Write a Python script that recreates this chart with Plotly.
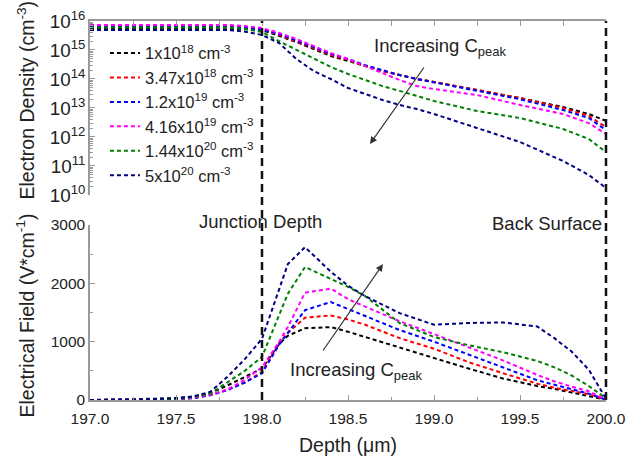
import plotly.graph_objects as go

# ---------------- data ----------------
labels = ["1x10<sup>18</sup> cm<sup>-3</sup>", "3.47x10<sup>18</sup> cm<sup>-3</sup>",
          "1.2x10<sup>19</sup> cm<sup>-3</sup>", "4.16x10<sup>19</sup> cm<sup>-3</sup>",
          "1.44x10<sup>20</sup> cm<sup>-3</sup>", "5x10<sup>20</sup> cm<sup>-3</sup>"]
colors = ["#000000", "#ff0000", "#0000ff", "#ff00ff", "#008000", "#000080"]

depth_n = [197.0, 197.5, 197.8, 197.9, 198.0, 198.1, 198.2, 198.3, 198.4, 198.5,
           198.6, 198.7, 198.8, 198.9, 199.0, 199.25, 199.5, 199.75, 199.9, 200.0]
n_1e18 = [5.4e15, 5.4e15, 5.4e15, 5.2e15, 4.9e15, 3.0e15, 1.89e15, 1.08e15, 6.2e14, 4.2e14,
          2.8e14, 1.89e14, 1.37e14, 1.0e14, 7.9e13, 4.2e13, 2.2e13, 1.08e13, 6.2e12, 3.6e12]
n_347e18 = [6.5e15, 6.5e15, 6.5e15, 6.0e15, 5.3e15, 3.3e15, 2.0e15, 1.17e15, 6.7e14, 4.5e14,
            2.8e14, 1.89e14, 1.37e14, 1.0e14, 7.9e13, 4.2e13, 2.2e13, 1.0e13, 5.3e12, 2.2e12]
n_12e19 = [6.2e15, 6.2e15, 6.2e15, 5.7e15, 5.1e15, 3.6e15, 2.2e15, 1.27e15, 7.3e14, 4.9e14,
           3.0e14, 2.0e14, 1.37e14, 1.0e14, 7.6e13, 3.9e13, 2.0e13, 8.5e12, 4.5e12, 1.74e12]
n_416e19 = [7.3e15, 7.3e15, 7.3e15, 6.7e15, 5.7e15, 3.9e15, 2.4e15, 1.37e15, 7.9e14, 4.9e14,
            2.8e14, 1.61e14, 9.2e13, 5.7e13, 4.5e13, 2.8e13, 1.27e13, 6.2e12, 3.0e12, 1.27e12]
n_144e20 = [6.0e15, 6.0e15, 6.0e15, 5.3e15, 4.2e15, 2.0e15, 1.0e15, 4.9e14, 2.6e14, 1.49e14,
            9.2e13, 5.7e13, 3.9e13, 2.6e13, 1.74e13, 7.9e12, 4.5e12, 1.89e12, 8.5e11, 3.0e11]
n_5e20 = [4.9e15, 4.9e15, 4.9e15, 4.3e15, 3.3e15, 1.74e15, 4.9e14, 1.89e14, 1.0e14, 4.9e13,
          3.0e13, 1.89e13, 1.27e13, 9.2e12, 6.2e12, 2.0e12, 6.7e11, 1.49e11, 4.9e10, 1.74e10]
density = [n_1e18, n_347e18, n_12e19, n_416e19, n_144e20, n_5e20]

depth_e = [197.0, 197.25, 197.5, 197.6, 197.7, 197.8, 197.9, 198.0, 198.1, 198.15, 198.25,
           198.4, 198.5, 198.6, 198.8, 199.0, 199.2, 199.4, 199.6, 199.7, 199.8, 199.9, 200.0]
e_1e18 = [0, 10, 30, 60, 120, 250, 400, 540, 960, 1100, 1230,
          1250, 1170, 1080, 890, 720, 540, 370, 240, 190, 130, 75, 5]
e_347e18 = [0, 5, 15, 35, 85, 180, 300, 480, 980, 1150, 1410,
            1450, 1380, 1290, 1060, 880, 650, 460, 280, 210, 160, 100, 5]
e_12e19 = [0, 3, 12, 30, 80, 170, 300, 460, 950, 1150, 1540,
           1680, 1560, 1430, 1200, 1000, 780, 560, 340, 260, 180, 110, 5]
e_416e19 = [0, 3, 15, 40, 90, 180, 350, 560, 1000, 1250, 1840,
            1910, 1730, 1600, 1350, 1130, 900, 680, 430, 320, 230, 150, 10]
e_144e20 = [0, 3, 20, 50, 110, 300, 500, 740, 1450, 1820, 2280,
            2080, 1940, 1780, 1320, 1080, 940, 820, 670, 560, 420, 240, 30]
e_5e20 = [0, 5, 30, 60, 140, 400, 700, 1050, 1900, 2330, 2620,
          2200, 1960, 1780, 1490, 1290, 1320, 1330, 1260, 1060, 830, 520, 20]
field = [e_1e18, e_347e18, e_12e19, e_416e19, e_144e20, e_5e20]

marker_depths = [198.0, 200.0]   # junction depth, back surface
x_range = [197.0, 200.0]

# ---------------- figure ----------------
FONT = "Arial, Liberation Sans, sans-serif"
AX = "#9a9a9a"
TXT = "#222222"
fig = go.Figure()

for lab, col, yv in zip(labels, colors, density):
    fig.add_trace(go.Scatter(x=depth_n, y=yv, mode="lines", name=lab, legendgroup=lab,
                             line=dict(color=col, width=2, dash="4px,3px"),
                             xaxis="x", yaxis="y"))
for lab, col, yv in zip(labels, colors, field):
    fig.add_trace(go.Scatter(x=depth_e, y=yv, mode="lines", name=lab, showlegend=False,
                             line=dict(color=col, width=2, dash="4px,3px"),
                             xaxis="x2", yaxis="y2"))

top_dom = [0.541, 1.0]
bot_dom = [0.0, 0.4617]

fig.update_layout(
    width=626, height=464,
    margin=dict(l=90, r=20, t=21, b=64, autoexpand=False),
    paper_bgcolor="white", plot_bgcolor="white",
    font=dict(family=FONT, size=15, color=TXT),
    showlegend=True,
    legend=dict(x=0.029, y=0.961, xanchor="left", yanchor="top",
                bgcolor="rgba(0,0,0,0)", font=dict(size=16.5, color=TXT),
                tracegroupgap=0),
    xaxis=dict(domain=[0, 1], range=x_range, anchor="y", side="top",
               showline=True, linecolor=AX, linewidth=1.5, ticks="inside",
               tickcolor=AX, ticklen=5, dtick=0.25, tick0=197.0, automargin=False,
               showticklabels=False, showgrid=False, zeroline=False, mirror=False),
    yaxis=dict(domain=top_dom, type="log", range=[10, 16], anchor="x", automargin=False,
               showline=True, linecolor=AX, linewidth=1.5, ticks="inside",
               tickcolor=AX, ticklen=5, dtick=1, exponentformat="power",
               minor=dict(ticks="inside", ticklen=3, tickcolor=AX, dtick="D1"),
               showgrid=False, zeroline=False, tickfont=dict(size=15)),
    xaxis2=dict(domain=[0, 1], range=x_range, anchor="y2", automargin=False,
                showline=True, linecolor=AX, linewidth=1.5, ticks="inside",
                tickcolor=AX, ticklen=5, dtick=0.5, tick0=197.0, tickformat=".1f",
                minor=dict(ticks="inside", ticklen=3, tickcolor=AX, dtick=0.25),
                showgrid=False, zeroline=False, tickfont=dict(size=15.5),
                ticklabelstandoff=4, ticklabeloverflow="allow"),
    yaxis2=dict(domain=bot_dom, range=[0, 3000], anchor="x2", automargin=False,
                showline=True, linecolor=AX, linewidth=1.5, ticks="inside",
                tickcolor=AX, ticklen=5, dtick=1000,
                minor=dict(ticks="inside", ticklen=3, tickcolor=AX, dtick=500),
                showgrid=False, zeroline=False, tickfont=dict(size=15.5)),
)

# vertical dashed lines (junction & back surface), placed via axis fraction
for xv in marker_depths:
    fx = (xv - x_range[0]) / (x_range[1] - x_range[0])
    fig.add_shape(type="line", xref="paper", yref="paper", x0=fx, x1=fx, y0=0, y1=1,
                  line=dict(color="#111111", width=2.5, dash="8px,5px"))

# axis titles as annotations
titles = [
    dict(text="Electron Density (cm<sup>-3</sup>)", x=-0.125, y=0.7916, angle=-90),
    dict(text="Electrical Field (V*cm<sup>-1</sup>)", x=-0.125, y=0.2216, angle=-90),
    dict(text="Depth (\u03bcm)", x=0.5, y=-0.1187, angle=0),
]
for t in titles:
    fig.add_annotation(text=t["text"], x=t["x"], y=t["y"], xref="paper", yref="paper",
                       xanchor="center", yanchor="middle", textangle=t["angle"],
                       showarrow=False, font=dict(size=19.5, color=TXT))

annots = [
    dict(text="Junction Depth", x=0.3295, y=0.4697, xanchor="center"),
    dict(text="Back Surface", x=0.996, y=0.467, xanchor="right"),
    dict(text="Increasing C<sub>peak</sub>", x=0.5465, y=0.931, xanchor="left"),
    dict(text="Increasing C<sub>peak</sub>", x=0.3837, y=0.0765, xanchor="left"),
]
for a in annots:
    fig.add_annotation(text=a["text"], x=a["x"], y=a["y"], xref="paper", yref="paper",
                       xanchor=a["xanchor"], yanchor="middle", showarrow=False,
                       font=dict(size=18.5, color=TXT))

# arrows
fig.add_annotation(x=0.5426, y=0.6755, xref="paper", yref="paper", ax=55, ay=-78,
                   axref="pixel", ayref="pixel", text="", showarrow=True,
                   arrowhead=2, arrowsize=1.2, arrowwidth=1.2, arrowcolor="#333333")
fig.add_annotation(x=0.5678, y=0.3588, xref="paper", yref="paper", ax=-61, ay=88,
                   axref="pixel", ayref="pixel", text="", showarrow=True,
                   arrowhead=2, arrowsize=1.2, arrowwidth=1.2, arrowcolor="#333333")

fig.write_html("out.html")
